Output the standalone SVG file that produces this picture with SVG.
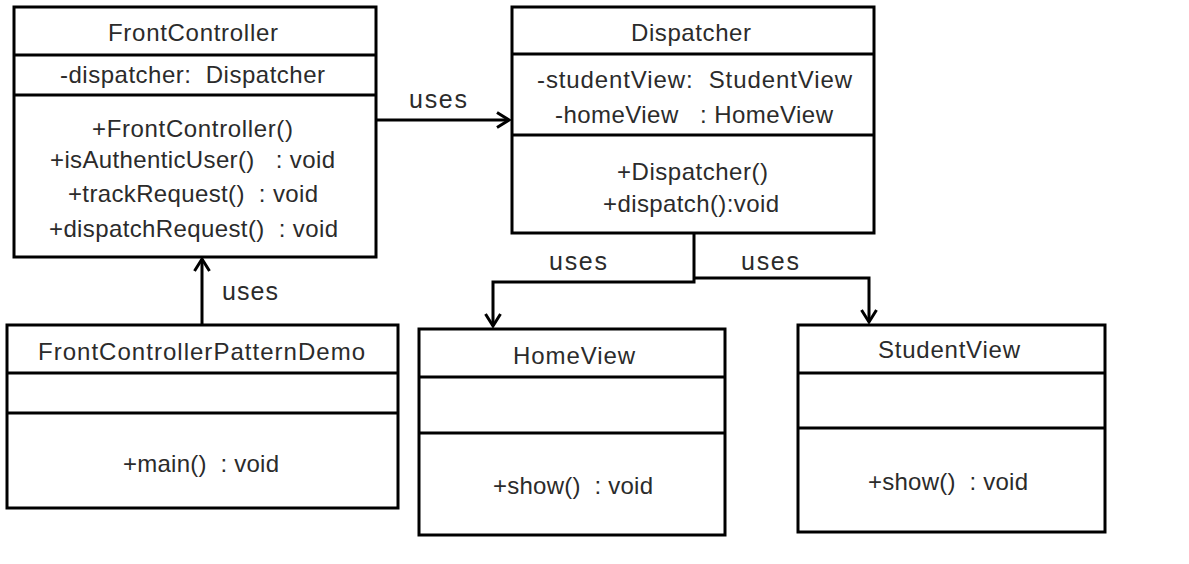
<svg xmlns="http://www.w3.org/2000/svg" width="1189" height="564" viewBox="0 0 1189 564">
<defs>
<style>
.box{fill:#fff;stroke:#000;stroke-width:3}
.div{stroke:#000;stroke-width:3}
.t{font-family:"Liberation Sans",Arial,sans-serif;font-size:24px;fill:#2b2b2b;white-space:pre}
.lbl{font-family:"Liberation Sans",Arial,sans-serif;font-size:25px;fill:#2b2b2b}
.c{fill:none;stroke:#000;stroke-width:3}
</style>
<marker id="arr" markerUnits="userSpaceOnUse" markerWidth="20" markerHeight="20" refX="13" refY="9" orient="auto" viewBox="0 0 20 20">
<path d="M1,1.5 L13,9 L1,16.5" fill="none" stroke="#000" stroke-width="3"/>
</marker>
</defs>
<rect width="1189" height="564" fill="#fff"/>

<g id="FrontController">
<rect class="box" x="14" y="7" width="362" height="250"/>
<line class="div" x1="14" y1="55" x2="376" y2="55"/>
<line class="div" x1="14" y1="95" x2="376" y2="95"/>
<text class="t" x="108" y="41" textLength="170" lengthAdjust="spacing">FrontController</text>
<text class="t" x="60" y="83" textLength="265" lengthAdjust="spacing">-dispatcher:  Dispatcher</text>
<text class="t" x="92" y="137" textLength="201" lengthAdjust="spacing">+FrontController()</text>
<text class="t" x="50" y="168" textLength="285" lengthAdjust="spacing">+isAuthenticUser()   : void</text>
<text class="t" x="68" y="202" textLength="250" lengthAdjust="spacing">+trackRequest()  : void</text>
<text class="t" x="49" y="237" textLength="289" lengthAdjust="spacing">+dispatchRequest()  : void</text>
</g>

<g id="Dispatcher">
<rect class="box" x="512" y="7" width="362" height="226"/>
<line class="div" x1="512" y1="54" x2="874" y2="54"/>
<line class="div" x1="512" y1="135" x2="874" y2="135"/>
<text class="t" x="631" y="41" textLength="120" lengthAdjust="spacing">Dispatcher</text>
<text class="t" x="537" y="88" textLength="315" lengthAdjust="spacing">-studentView:  StudentView</text>
<text class="t" x="555" y="123" textLength="278" lengthAdjust="spacing">-homeView   : HomeView</text>
<text class="t" x="617" y="180" textLength="151" lengthAdjust="spacing">+Dispatcher()</text>
<text class="t" x="603" y="212" textLength="176" lengthAdjust="spacing">+dispatch():void</text>
</g>

<g id="FrontControllerPatternDemo">
<rect class="box" x="7" y="325" width="391" height="183"/>
<line class="div" x1="7" y1="373" x2="398" y2="373"/>
<line class="div" x1="7" y1="413" x2="398" y2="413"/>
<text class="t" x="38" y="360" textLength="327" lengthAdjust="spacing">FrontControllerPatternDemo</text>
<text class="t" x="123" y="472" textLength="156" lengthAdjust="spacing">+main()  : void</text>
</g>

<g id="HomeView">
<rect class="box" x="419" y="329" width="306" height="206"/>
<line class="div" x1="419" y1="377" x2="725" y2="377"/>
<line class="div" x1="419" y1="433" x2="725" y2="433"/>
<text class="t" x="513" y="364" textLength="122" lengthAdjust="spacing">HomeView</text>
<text class="t" x="493" y="494" textLength="160" lengthAdjust="spacing">+show()  : void</text>
</g>

<g id="StudentView">
<rect class="box" x="798" y="325" width="307" height="207"/>
<line class="div" x1="798" y1="373" x2="1105" y2="373"/>
<line class="div" x1="798" y1="428" x2="1105" y2="428"/>
<text class="t" x="878" y="358" textLength="142" lengthAdjust="spacing">StudentView</text>
<text class="t" x="868" y="490" textLength="160" lengthAdjust="spacing">+show()  : void</text>
</g>

<g id="connectors">
<path class="c" d="M202,325 V259" marker-end="url(#arr)"/>
<path class="c" d="M376,120 H509" marker-end="url(#arr)"/>
<path class="c" d="M694,233 V282 H493 V326" marker-end="url(#arr)"/>
<path class="c" d="M694,278 H869 V322" marker-end="url(#arr)"/>
<text class="lbl" x="222" y="300" textLength="56" lengthAdjust="spacing">uses</text>
<text class="lbl" x="409" y="108" textLength="58" lengthAdjust="spacing">uses</text>
<text class="lbl" x="549" y="270" textLength="58" lengthAdjust="spacing">uses</text>
<text class="lbl" x="741" y="270" textLength="58" lengthAdjust="spacing">uses</text>
</g>
</svg>
